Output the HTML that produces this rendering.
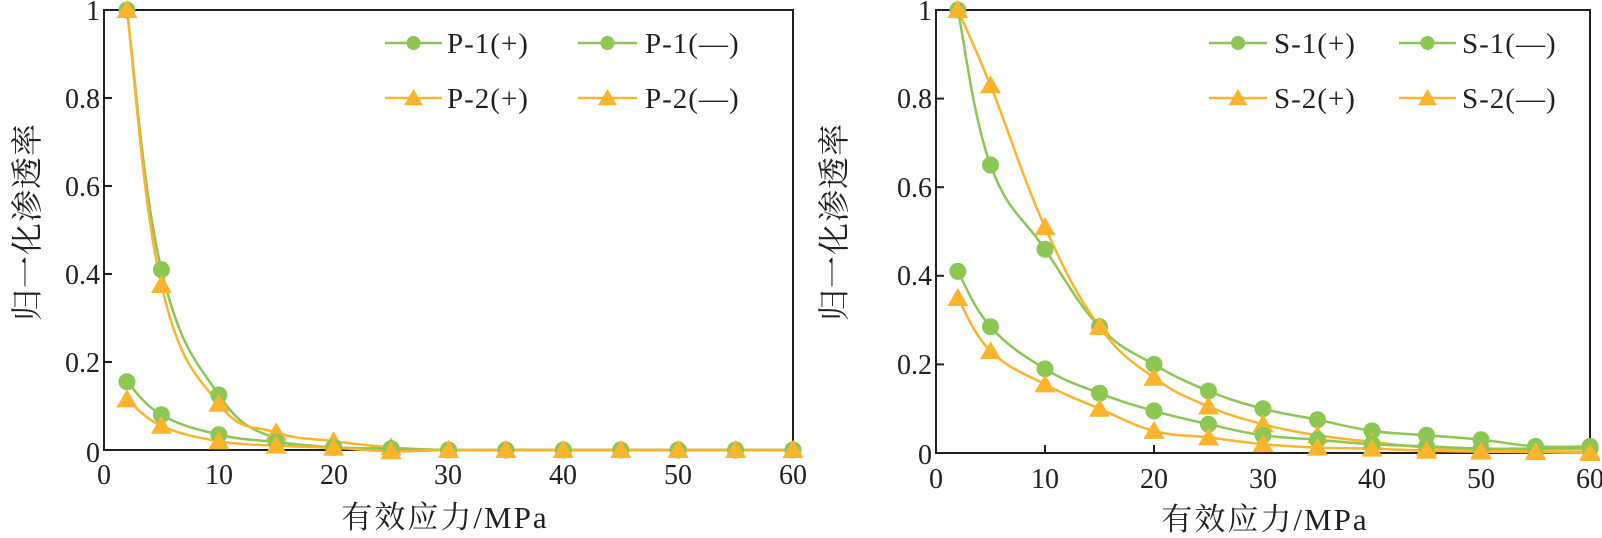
<!DOCTYPE html>
<html><head><meta charset="utf-8"><style>
html,body{margin:0;padding:0;background:#fff;}
svg{display:block;}
text{font-family:"Liberation Serif","Noto Serif CJK SC",serif;fill:#231f20;}
</style></head><body>
<svg id="s" width="1602" height="538" xmlns="http://www.w3.org/2000/svg">
<g font-size="28">
<rect x="104" y="10" width="689" height="440" fill="none" stroke="#231f20" stroke-width="2"/>
<g text-anchor="end">
<text x="100" y="20">1</text><text x="100" y="108">0.8</text><text x="100" y="196">0.6</text><text x="100" y="284">0.4</text><text x="100" y="372">0.2</text><text x="100" y="462">0</text>
</g>
<g text-anchor="middle">
<text x="104" y="484">0</text><text x="219" y="484">10</text><text x="334" y="484">20</text><text x="448" y="484">30</text><text x="563" y="484">40</text><text x="678" y="484">50</text><text x="793" y="484">60</text>
<text x="445" y="528" font-size="31" letter-spacing="2">有效应力/MPa</text>
<text transform="translate(38,222) rotate(-90)" font-size="32" letter-spacing="1">归一化渗透率</text>
</g>
<rect x="936" y="10" width="654" height="443" fill="none" stroke="#231f20" stroke-width="2"/>
<g text-anchor="end">
<text x="932" y="20">1</text><text x="932" y="108">0.8</text><text x="932" y="197">0.6</text><text x="932" y="285">0.4</text><text x="932" y="374">0.2</text><text x="932" y="464">0</text>
</g>
<g text-anchor="middle">
<text x="936" y="488">0</text><text x="1045" y="488">10</text><text x="1154" y="488">20</text><text x="1263" y="488">30</text><text x="1372" y="488">40</text><text x="1481" y="488">50</text><text x="1590" y="488">60</text>
<text x="1265" y="530" font-size="31" letter-spacing="2">有效应力/MPa</text>
<text transform="translate(845,222) rotate(-90)" font-size="32" letter-spacing="1">归一化渗透率</text>
</g>
<g font-size="29" letter-spacing="1">
<text x="447" y="53">P-1(+)</text><text x="645" y="53">P-1(—)</text>
<text x="447" y="108">P-2(+)</text><text x="645" y="108">P-2(—)</text>
<text x="1274" y="53">S-1(+)</text><text x="1462" y="53">S-1(—)</text>
<text x="1274" y="108">S-2(+)</text><text x="1462" y="108">S-2(—)</text>
</g>
</g>
<g id="ticks" stroke="#231f20" stroke-width="2"></g>
<g id="data"></g>
</svg>
<script>
var G='#8cc653',O='#fbb42c';
var xs=[2,5,10,15,20,25,30,35,40,45,50,55,60];
var L={X:function(v){return 104+v*11.483},Y:function(v){return 450-v*440}};
var R={X:function(v){return 936+v*10.9},Y:function(v){return 453-v*443}};
var series=[
[L,G,'c',[1,.41,.125,.025,.006,.003,0,0,0,0,0,0,0]],
[L,O,'t',[1,.375,.105,.04,.02,.006,0,0,0,0,0,0,0]],
[L,G,'c',[.155,.08,.035,.018,.006,.003,0,0,0,0,0,0,0]],
[L,O,'t',[.115,.055,.02,.01,.005,-.003,0,0,0,0,0,0,0]],
[R,G,'c',[1,.65,.46,.285,.2,.14,.1,.075,.05,.04,.03,.015,.015]],
[R,O,'t',[1,.83,.51,.285,.17,.105,.065,.04,.025,.012,.006,.004,.003]],
[R,G,'c',[.41,.285,.19,.135,.095,.065,.04,.03,.02,.015,.01,.01,.01]],
[R,O,'t',[.35,.23,.155,.1,.05,.035,.02,.012,.01,.005,.003,.002,0]]
];
var ns='http://www.w3.org/2000/svg',d=document.getElementById('data'),tk=document.getElementById('ticks');
function el(n,a,p){var e=document.createElementNS(ns,n);for(var k in a)e.setAttribute(k,a[k]);(p||d).appendChild(e);return e;}
function mk(type,c,x,y,r){
 if(type=='c')el('circle',{cx:x,cy:y,r:r||8.5,fill:c});
 else{var s=r?r*1.2:10;el('polygon',{points:(x)+','+(y-s)+' '+(x-s*1.05)+','+(y+s*0.8)+' '+(x+s*1.05)+','+(y+s*0.8),fill:c});}
}
[[L,450],[R,453]].forEach(function(a){var A=a[0];
 for(var i=1;i<6;i++){var x=A.X(i*10);el('line',{x1:x,y1:a[1],x2:x,y2:a[1]-8},tk);}
 for(var j=1;j<5;j++){var y=A.Y(j*.2);el('line',{x1:A.X(0),y1:y,x2:A.X(0)+8,y2:y},tk);}
});
function smooth(p){var s='M'+p[0][0]+','+p[0][1];
 for(var i=0;i<p.length-1;i++){var p0=p[i-1]||p[i],p1=p[i],p2=p[i+1],p3=p[i+2]||p2,t=0.2;
  var c1x=p1[0]+(p2[0]-p0[0])*t,c1y=p1[1]+(p2[1]-p0[1])*t,c2x=p2[0]-(p3[0]-p1[0])*t,c2y=p2[1]-(p3[1]-p1[1])*t;
  s+=' C'+c1x+','+c1y+' '+c2x+','+c2y+' '+p2[0]+','+p2[1];}
 return s;}
series.forEach(function(s){var A=s[0],pts=[];
 for(var i=0;i<xs.length;i++)pts.push([A.X(xs[i]),A.Y(s[3][i])]);
 el('path',{d:smooth(pts),fill:'none',stroke:s[1],'stroke-width':2.5,'stroke-linejoin':'round'});
});
series.forEach(function(s){var A=s[0];
 for(var i=0;i<xs.length;i++)mk(s[2],s[1],A.X(xs[i]),A.Y(s[3][i]));
});
function leg(x1,x2,y,c,t){el('line',{x1:x1,y1:y,x2:x2,y2:y,stroke:c,'stroke-width':2.5});mk(t,c,(x1+x2)/2,y,t=='c'?7:7.5);}
leg(385,442,43,G,'c');leg(578,637,43,G,'c');leg(385,442,98,O,'t');leg(578,637,98,O,'t');
leg(1209,1267,43,G,'c');leg(1399,1456,43,G,'c');leg(1209,1267,98,O,'t');leg(1399,1456,98,O,'t');
</script>
</body></html>
